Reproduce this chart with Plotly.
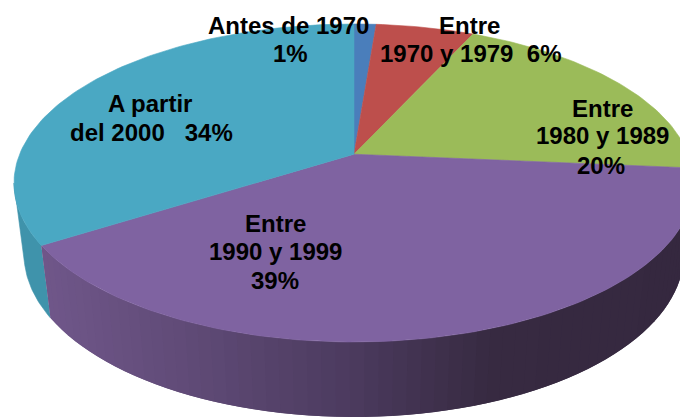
import math
import plotly.graph_objects as go

# Data
periods = ["Antes de 1970", "Entre 1970 y 1979", "Entre 1980 y 1989", "Entre 1990 y 1999", "A partir del 2000"]
shares = [1.25, 5.55, 19.6, 39.6, 34]
label_lines = ["Antes de 1970", "1%",
               "Entre", "1970 y 1979\u00a0\u00a06%",
               "Entre", "1980 y 1989", "20%",
               "Entre", "1990 y 1999", "39%",
               "A partir", "del 2000\u00a0\u00a0\u00a034%"]
label_x = [288, 290, 469, 471, 602, 602, 601, 275, 275, 275, 150, 151]
label_y = [25, 53, 25, 53, 108, 135, 165, 223, 251, 280, 103, 132]

# Style
top_colors = ["#4a7ebb", "#bd4f4c", "#9bbb59", "#7f63a1", "#4aa8c3"]
side_teal = "#3f93ab"
W, H = 680, 417
top_ell = (354, 183, 340, 159)
bot_ell = (354, 254, 330, 163)
A = 0.181


def project(theta, ell):
    """Clockwise angle from 12 o'clock on a tilted disc, in pixel space."""
    cx, cy, rx, ry = ell
    u, v = math.sin(theta), math.cos(theta)
    d = 1 + A * v
    return cx + rx * u * math.sqrt(1 - A * A) / d, cy - ry * (v + A) / d


def centre(ell):
    cx, cy, rx, ry = ell
    return cx, cy - ry * A


def lerp_color(x):
    stops = [(40, (0x70, 0x57, 0x8a)), (200, (0x5f, 0x4a, 0x76)), (354, (0x4c, 0x3b, 0x5f)),
             (500, (0x37, 0x2a, 0x41)), (700, (0x35, 0x28, 0x3f))]
    for (x0, c0), (x1, c1) in zip(stops, stops[1:]):
        if x <= x1:
            t = max(0, (x - x0) / (x1 - x0))
            return "rgb(%d,%d,%d)" % tuple(round(a + (b - a) * t) for a, b in zip(c0, c1))
    return "rgb(53,40,63)"


total = sum(shares)
edges = [0]
for s in shares:
    edges.append(edges[-1] + s / total * 2 * math.pi)

fig = go.Figure()


def poly(xs, ys, color, width=0.6):
    fig.add_trace(go.Scatter(x=xs, y=ys, mode="lines", fill="toself", fillcolor=color,
                             line=dict(color=color, width=width), hoverinfo="skip", showlegend=False))


# Outer wall: the teal slice up to the disc's left-most point, then the purple slice as overlapping strips
wall_end = 2 * math.pi - math.acos(-A)
steps = [edges[4] + (wall_end - edges[4]) * i / 30 for i in range(31)]
tp = [project(a, top_ell) for a in steps]
bp = [project(a, bot_ell) for a in reversed(steps)]
poly([p[0] for p in tp + bp], [p[1] for p in tp + bp], side_teal)

start, end = edges[3], edges[4]
n = 70
for i in range(n):
    a0 = start + (end - start) * i / n
    a1 = start + (end - start) * min(n, i + 2) / n
    arc = [a0 + (a1 - a0) * k / 2 for k in range(3)]
    tp = [project(a, top_ell) for a in arc]
    bp = [project(a, bot_ell) for a in reversed(arc)]
    poly([p[0] for p in tp + bp], [p[1] for p in tp + bp], lerp_color(tp[0][0]), width=0)

# Top face
for i, color in enumerate(top_colors):
    m = max(6, int(shares[i] * 3))
    pts = [project(edges[i] + (edges[i + 1] - edges[i]) * k / m, top_ell) for k in range(m + 1)]
    c = centre(top_ell)
    poly([c[0]] + [p[0] for p in pts] + [c[0]], [c[1]] + [p[1] for p in pts] + [c[1]], color)

for text, x, y in zip(label_lines, label_x, label_y):
    fig.add_annotation(x=x, y=y, text=text, showarrow=False, align="center",
                       font=dict(family="Liberation Sans", size=24, color="#000000", weight=700))

fig.update_layout(
    width=W, height=H, autosize=False,
    margin=dict(l=0, r=0, t=0, b=0),
    paper_bgcolor="#ffffff", plot_bgcolor="#ffffff",
    xaxis=dict(range=[0, W], visible=False, fixedrange=True),
    yaxis=dict(range=[H, 0], visible=False, fixedrange=True),
)
fig.write_html("out.html", config=dict(displayModeBar=False),
               post_script="document.body.style.margin='0';document.body.style.overflow='hidden';")
